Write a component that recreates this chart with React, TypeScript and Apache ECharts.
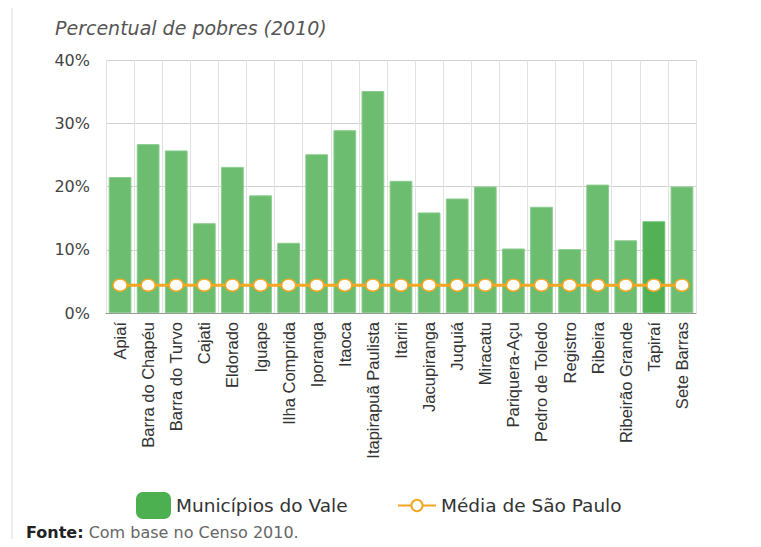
import React, { useEffect, useRef } from "react";
import * as echarts from "echarts";

const categories = [
  "Apiaí", "Barra do Chapéu", "Barra do Turvo", "Cajati", "Eldorado", "Iguape",
  "Ilha Comprida", "Iporanga", "Itaoca", "Itapirapuã Paulista", "Itariri",
  "Jacupiranga", "Juquiá", "Miracatu", "Pariquera-Açu", "Pedro de Toledo",
  "Registro", "Ribeira", "Ribeirão Grande", "Tapiraí", "Sete Barras",
];
const municipiosValues = [
  21.5, 26.7, 25.7, 14.2, 23.1, 18.6, 11.1, 25.1, 28.9, 35.1, 20.9,
  15.9, 18.1, 20.0, 10.2, 16.8, 10.1, 20.3, 11.5, 14.5, 20.0,
];
const mediaSP = 4.4;
const mediaValues = categories.map(() => mediaSP);
const highlighted = "Tapiraí";
const yTicks = [0, 10, 20, 30, 40];

const WIDE = "'DejaVu Sans', Verdana, sans-serif";
const ARIAL = "'Liberation Sans', Arial, sans-serif";

export default function App() {
  const ref = useRef<HTMLDivElement>(null);
  useEffect(() => {
    if (!ref.current) return;
    const chart = echarts.init(ref.current, null, { renderer: "svg" });
    chart.setOption({
      animation: false,
      backgroundColor: "#ffffff",
      textStyle: { fontFamily: WIDE },
      title: {
        text: "Percentual de pobres (2010)",
        left: 50,
        top: 13,
        textStyle: { fontSize: 19, fontStyle: "italic", fontWeight: "normal", color: "#555", fontFamily: WIDE },
      },
      grid: { left: 106, right: 65, top: 60, bottom: 234 },
      legend: [
        {
          data: [{ name: "Municípios do Vale", icon: "roundRect" }],
          left: 136,
          top: 492,
          padding: 0,
          itemWidth: 35,
          itemHeight: 27,
          textStyle: { fontSize: 18.5, color: "#333", fontFamily: WIDE },
          selectedMode: false,
        },
        {
          data: ["Média de São Paulo"],
          left: 397,
          top: 496,
          padding: 0,
          itemWidth: 38,
          itemHeight: 14,
          textStyle: { fontSize: 18.5, color: "#333", fontFamily: WIDE },
          selectedMode: false,
        },
      ],
      xAxis: {
        type: "category",
        data: categories,
        boundaryGap: true,
        axisLine: { show: true, lineStyle: { color: "#999", width: 1 } },
        axisTick: { show: false },
        splitLine: { show: true, interval: 0, lineStyle: { color: "#e2e2e2", width: 1 } },
        axisLabel: {
          interval: 0,
          rotate: 90,
          fontSize: 16.5,
          color: "#333",
          margin: 9,
          fontFamily: ARIAL,
        },
      },
      yAxis: {
        type: "value",
        min: 0,
        max: 40,
        interval: 10,
        axisLine: { show: false },
        axisTick: { show: false },
        splitLine: { show: true, lineStyle: { color: "#d0d0d0", width: 1 } },
        axisLabel: {
          formatter: (v: number) => (yTicks.includes(v) ? v + "%" : ""),
          fontSize: 16,
          color: "#444",
          margin: 16,
          fontFamily: WIDE,
        },
      },
      series: [
        {
          name: "Municípios do Vale",
          type: "bar",
          barCategoryGap: "19%",
          itemStyle: { color: "#4caf50" },
          data: municipiosValues.map((v, i) => ({
            value: v,
            itemStyle: {
              color: categories[i] === highlighted ? "#52b055" : "#6cbd6f",
              borderColor: categories[i] === highlighted ? "#6cc06e" : "#8ccd8e",
              borderWidth: 1,
            },
          })),
        },
        {
          name: "Média de São Paulo",
          type: "line",
          data: mediaValues,
          symbol: "circle",
          symbolSize: [14, 12],
          lineStyle: { color: "#f5a623", width: 3 },
          itemStyle: { color: "#ffffff", borderColor: "#f5a623", borderWidth: 1.5 },
          z: 5,
        },
      ],
      graphic: [
        {
          type: "line",
          shape: { x1: 12, y1: 0, x2: 12, y2: 547 },
          style: { stroke: "#ececec", lineWidth: 2 },
        },
        {
          type: "text",
          x: 26,
          y: 532,
          style: {
            rich: {
              b: { fontSize: 16, fontWeight: "bold", fill: "#222", fontFamily: WIDE },
              n: { fontSize: 16, fill: "#666", fontFamily: WIDE },
            },
            text: "{b|Fonte:}{n| Com base no Censo 2010.}",
            verticalAlign: "middle",
            align: "left",
          },
        },
      ],
    });
    return () => chart.dispose();
  }, []);
  return <div ref={ref} style={{ width: 761, height: 547, margin: -8 }} />;
}
